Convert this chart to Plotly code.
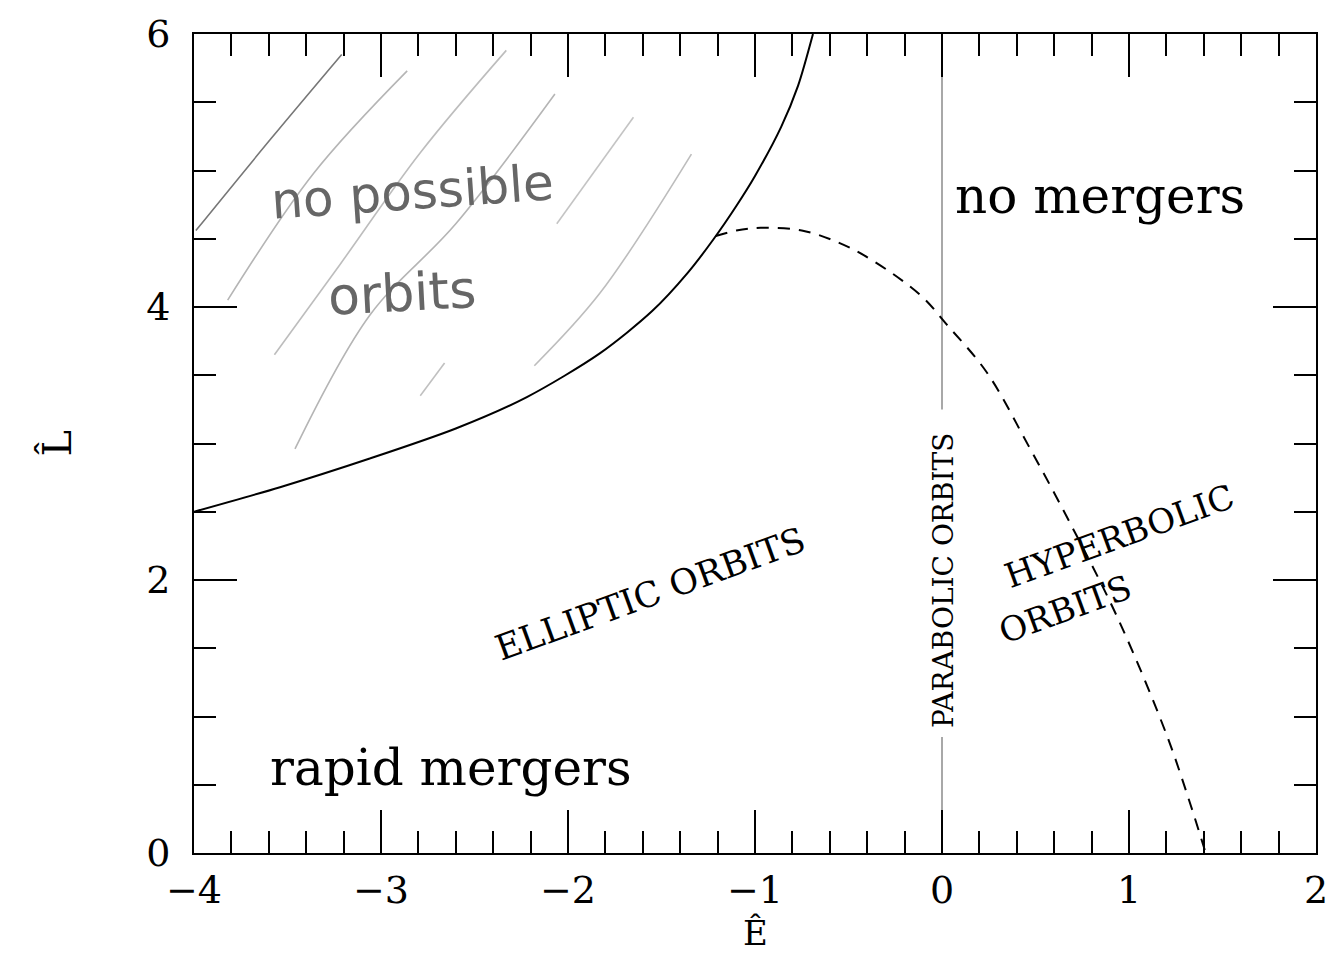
import plotly.graph_objects as go

# Boundary of the allowed region (solid) in the (E, L) plane
bound_E = [-4.0, -3.54, -3.06, -2.60, -2.22, -1.83, -1.55, -1.36, -1.22, -1.10, -1.00, -0.86, -0.77, -0.69]
bound_L = [2.50, 2.68, 2.89, 3.11, 3.34, 3.66, 3.97, 4.25, 4.50, 4.74, 4.96, 5.32, 5.62, 6.0]

# Merger threshold (dashed)
merge_E = [-1.21, -1.10, -0.97, -0.75, -0.55, -0.37, -0.11, 0.02, 0.24, 0.46, 0.68, 0.94, 1.20, 1.33, 1.41]
merge_L = [4.52, 4.56, 4.58, 4.56, 4.47, 4.34, 4.08, 3.88, 3.52, 2.99, 2.43, 1.72, 0.87, 0.35, 0.0]

# Parabolic line E = 0, split around its label
parab_upper_L = [6.0, 3.25]
parab_lower_L = [0.85, 0.0]

# Pencil hatching over the forbidden region
hatch_strokes = [
    ([-3.99, -3.59, -3.21], [4.56, 5.23, 5.85], "#777777"),
    ([-3.82, -3.36, -2.86], [4.05, 4.98, 5.73], "#b5b5b5"),
    ([-3.57, -3.22, -2.79, -2.33], [3.65, 4.31, 5.13, 5.88], "#bdbdbd"),
    ([-3.46, -3.06, -2.60, -2.07], [2.96, 3.94, 4.61, 5.56], "#b5b5b5"),
    ([-2.79, -2.66], [3.35, 3.59], "#c0c0c0"),
    ([-2.18, -1.83, -1.34], [3.57, 4.10, 5.12], "#bdbdbd"),
    ([-2.06, -1.65], [4.61, 5.39], "#c4c4c4"),
]

x_ticks = [-4, -3, -2, -1, 0, 1, 2]
y_ticks = [0, 2, 4, 6]

fig = go.Figure()

for hx, hy, col in hatch_strokes:
    fig.add_trace(go.Scatter(x=hx, y=hy, mode="lines",
                             line=dict(color=col, width=1.6, shape="spline"),
                             hoverinfo="skip"))

fig.add_trace(go.Scatter(x=[0, 0], y=parab_upper_L, mode="lines",
                         line=dict(color="#a8a8a8", width=2), hoverinfo="skip"))
fig.add_trace(go.Scatter(x=[0, 0], y=parab_lower_L, mode="lines",
                         line=dict(color="#a8a8a8", width=2), hoverinfo="skip"))

fig.add_trace(go.Scatter(x=bound_E, y=bound_L, mode="lines",
                         line=dict(color="black", width=2, shape="spline", smoothing=0.8)))
fig.add_trace(go.Scatter(x=merge_E, y=merge_L, mode="lines",
                         line=dict(color="black", width=2, shape="spline", dash="12px,9px")))

serif = "DejaVu Serif"

axis_common = dict(
    ticks="inside", ticklen=43, tickwidth=2, tickcolor="black",
    showline=True, linecolor="black", linewidth=2, mirror="ticks",
    showgrid=False, zeroline=False,
    tickfont=dict(family=serif, size=38, color="black"),
)

fig.update_xaxes(range=[-4, 2], tickvals=x_ticks, ticklabelstandoff=2,
                 minor=dict(ticks="inside", ticklen=22, tickwidth=2, tickcolor="black",
                            dtick=0.2, tick0=-4, showgrid=False),
                 **axis_common)
fig.update_yaxes(range=[0, 6], tickvals=y_ticks, ticklabelstandoff=14,
                 minor=dict(ticks="inside", ticklen=22, tickwidth=2, tickcolor="black",
                            dtick=0.5, tick0=0, showgrid=False),
                 **axis_common)

notes = [
    dict(x=0.845, y=4.81, text="no mergers", font=dict(family=serif, size=50, color="black")),
    dict(x=-2.626, y=0.62, text="rapid mergers", font=dict(family=serif, size=50, color="black")),
    dict(x=-1.56, y=1.90, text="ELLIPTIC ORBITS", textangle=-20,
         font=dict(family=serif, size=35, color="black")),
    dict(x=0.95, y=2.32, text="HYPERBOLIC", textangle=-20,
         font=dict(family=serif, size=34, color="black")),
    dict(x=0.66, y=1.79, text="ORBITS", textangle=-20,
         font=dict(family=serif, size=34, color="black")),
    dict(x=0.005, y=2.0, text="PARABOLIC ORBITS", textangle=-90,
         font=dict(family=serif, size=28, color="black")),
    dict(x=-2.83, y=4.84, text="no possible", textangle=-4,
         font=dict(family="DejaVu Sans", size=50, color="#666666")),
    dict(x=-2.89, y=4.10, text="orbits", textangle=-3,
         font=dict(family="DejaVu Sans", size=52, color="#666666")),
]
for n in notes:
    fig.add_annotation(xref="x", yref="y", showarrow=False,
                       xanchor="center", yanchor="middle", **n)

# Axis titles
fig.add_annotation(xref="x", yref="paper", x=-1, y=0, yshift=-80, yanchor="middle",
                   showarrow=False, text="Ê", font=dict(family=serif, size=34, color="black"))
fig.add_annotation(xref="paper", yref="y", x=0, y=3, xshift=-138, xanchor="center",
                   showarrow=False, text="L\u0302", textangle=-90,
                   font=dict(family=serif, size=40, color="black"))

fig.update_layout(width=1342, height=957,
                  margin=dict(l=194, r=26, t=30, b=104),
                  plot_bgcolor="white", paper_bgcolor="white",
                  showlegend=False)

fig.write_html("out.html")
